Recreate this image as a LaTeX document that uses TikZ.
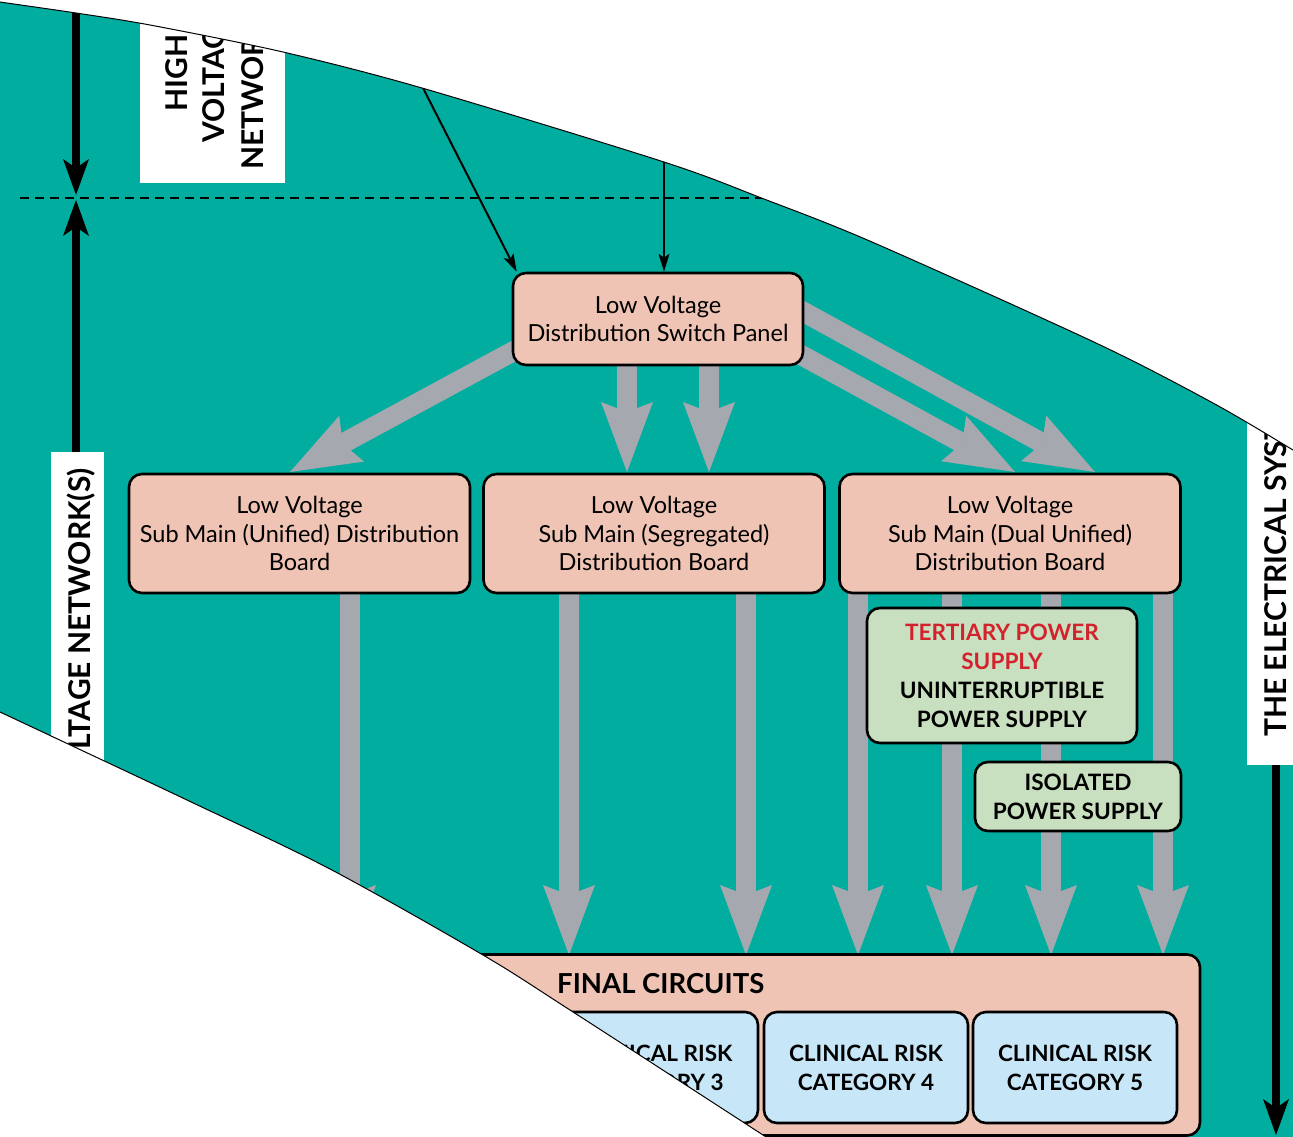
\documentclass[tikz,border=0pt]{standalone}
\usepackage{fontspec}
\setmainfont{Lato}
\usetikzlibrary{arrows.meta}
\definecolor{tealbg}{RGB}{0,173,159}
\definecolor{agray}{RGB}{166,168,175}
\definecolor{peach}{RGB}{239,196,180}
\definecolor{paleg}{RGB}{200,223,192}
\definecolor{paleb}{RGB}{199,230,247}
\definecolor{redc}{RGB}{210,35,45}
\begin{document}
\begin{tikzpicture}[x=1pt,y=-1pt,
  box/.style={draw=black, line width=2.6pt, rounded corners=13pt, fill=peach, align=center, inner sep=0pt,
    font={\fontsize{23.5}{28.5}\selectfont}},
  gbox/.style={box, fill=paleg, font={\bfseries\fontsize{22.6}{29}\selectfont}},
  bbox/.style={box, fill=paleb, font={\bfseries\fontsize{22.5}{29}\selectfont}},
  whitebox/.style={fill=white, draw=none, inner sep=0pt},
  biglabel/.style={inner sep=0pt, align=center, font={\bfseries\fontsize{30}{38}\selectfont}},
  garrow/.style={draw=agray, line width=20pt, -{Stealth[length=70pt,width=52pt,inset=10pt,line width=0pt]}},
  barrow/.style={draw=black, line width=8pt, -{Stealth[length=36pt,width=26pt,inset=9pt,line width=0pt]}},
  tarrow/.style={draw=black, line width=2pt, -{Stealth[length=18pt,width=11pt,inset=4pt,line width=0pt]}},
  edgeline/.style={draw=black, line width=1pt}
]
\useasboundingbox (0,0) rectangle (1293,1136);
\fill[tealbg] (-10,-10) rectangle (1303,1146);

% named points
\coordinate (hvsrc1) at (423,88);
\coordinate (hvsrc2) at (664,162);
\coordinate (dashL) at (20,198);
\coordinate (dashR) at (764,198);
\coordinate (ltop) at (76,-5);
\coordinate (ldown) at (76,195);
\coordinate (lup) at (76,200);
\coordinate (rtip) at (1276,1135);

% gray arrows
\path (299.5,533.5) coordinate (b1c) (654,533.5) coordinate (b2c) (1010,533.5) coordinate (b3c);
\coordinate (fintop) at (790,955);

\draw[garrow] (560,326) -- (290,472);
\draw[garrow] (627,340) -- (627,472);
\draw[garrow] (709,340) -- (709,472);
\draw[garrow] (760,288) -- (1095,472);
\draw[garrow] (770,338) -- (1015,472);

\draw[garrow] (b1c -| 350,0) -- (fintop -| 350,0);
\draw[garrow] (b2c -| 569,0) -- (fintop -| 569,0);
\draw[garrow] (b2c -| 746,0) -- (fintop -| 746,0);
\draw[garrow] (b3c -| 858,0) -- (fintop -| 858,0);
\draw[garrow] (b3c -| 952,0) -- (fintop -| 952,0);
\draw[garrow] (b3c -| 1051,0) -- (fintop -| 1051,0);
\draw[garrow] (b3c -| 1163,0) -- (fintop -| 1163,0);

% main boxes
\node[box, minimum width=290pt, minimum height=92pt] (panel) at (658,319) {Low Voltage\\Distribution Switch Panel};
\node[box, minimum width=341pt, minimum height=119pt] (b1) at (b1c) {Low Voltage\\Sub Main (Unified) Distribution\\Board};
\node[box, minimum width=341pt, minimum height=119pt] (b2) at (b2c) {Low Voltage\\Sub Main (Segregated)\\Distribution Board};
\node[box, minimum width=341pt, minimum height=119pt] (b3) at (b3c) {Low Voltage\\Sub Main (Dual Unified)\\Distribution Board};

\node[gbox, minimum width=270pt, minimum height=135pt] (ups) at (1002,675.5)
  {\color{redc}TERTIARY POWER\\\color{redc}SUPPLY\\\color{black}UNINTERRUPTIBLE\\\color{black}POWER SUPPLY};
\node[gbox, minimum width=206pt, minimum height=69pt] (iso) at (1078,796.5) {ISOLATED\\POWER SUPPLY};

\node[box, minimum width=840pt, minimum height=181pt] (final) at (780,1045) {};
\node[inner sep=0pt, anchor=base west, font={\bfseries\fontsize{27.5}{30}\selectfont}] (fintext) at (557,993) {FINAL CIRCUITS};
\node[bbox, minimum width=205pt, minimum height=111pt] (cat3) at (655.5,1067.5) {CLINICAL RISK\\CATEGORY 3};
\node[bbox, minimum width=204pt, minimum height=111pt] (cat4) at (866,1067.5) {CLINICAL RISK\\CATEGORY 4};
\node[bbox, minimum width=204pt, minimum height=111pt] (cat5) at (1075,1067.5) {CLINICAL RISK\\CATEGORY 5};

% white label boxes
\node[whitebox, minimum width=145pt, minimum height=220pt, anchor=south west] (hvbox) at (140,183) {};
\node[biglabel, rotate=90, anchor=base west] (hvtext1) at (187,112) {HIGH};
\node[biglabel, rotate=90, anchor=base west] (hvtext2) at (224,143) {VOLTAGE};
\node[biglabel, rotate=90, anchor=base west] (hvtext3) at (263,170) {NETWORK};
\node[whitebox, minimum width=53pt, minimum height=700pt, anchor=north west] (lvbox) at (51,452) {};
\node[biglabel, rotate=90, anchor=base east] (lvtext) at (90,468) {LOW VOLTAGE NETWORK(S)};
\node[whitebox, minimum width=60pt, minimum height=400pt, anchor=south west] (esbox) at (1247,765) {};
\node[biglabel, rotate=90, anchor=base west] (estext) at (1286,737) {THE ELECTRICAL SYSTEM};

% black arrows
\draw[barrow] (ltop) -- (ldown);
\draw[barrow] (lvbox.north -| lup) -- (lup);
\draw[barrow] (esbox.south -| rtip) -- (rtip);
\draw[black, line width=2.5pt, dash pattern=on 9pt off 6pt] (dashL) -- (dashR);
\draw[tarrow] (hvsrc1) -- ([xshift=5pt]panel.north west);
\draw[tarrow] (hvsrc2) -- (panel.north -| hvsrc2);

% white overlays outside the sector
\fill[white] plot[smooth] coordinates {(-5,1) (0,2) (76,13) (150,25) (283,52) (422,88) (664,162) (764,199) (872,242) (1096,343) (1213,403) (1293,450) (1305,458)} -- (1305,-20) -- (-5,-20) -- cycle;
\draw[edgeline] plot[smooth] coordinates {(-5,1) (0,2) (76,13) (150,25) (283,52) (422,88) (664,162) (764,199) (872,242) (1096,343) (1213,403) (1293,450) (1305,458)};
\fill[white] plot[smooth] coordinates {(-5,710) (0,712) (187,800) (330,869) (483,955) (570,1010) (763,1135) (775,1143)} -- (-5,1150) -- cycle;
\draw[edgeline] plot[smooth] coordinates {(-5,710) (0,712) (187,800) (330,869) (483,955) (570,1010) (763,1135) (775,1143)};
\end{tikzpicture}
\end{document}
